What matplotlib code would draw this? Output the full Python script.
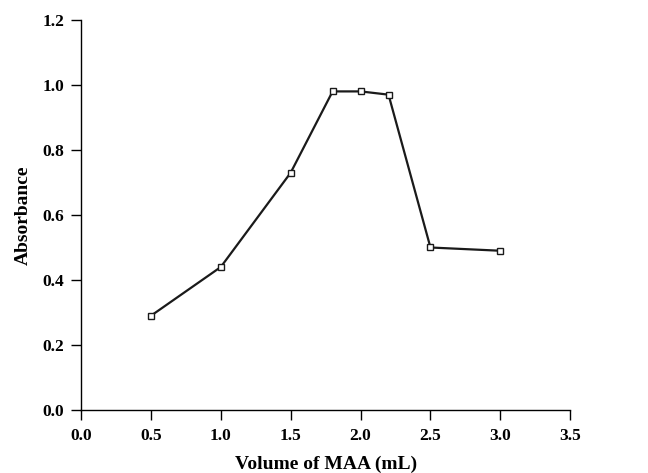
import matplotlib
matplotlib.use("Agg")
import matplotlib.pyplot as plt

# datos
volumen = [0.5, 1.0, 1.5, 1.8, 2.0, 2.2, 2.5, 3.0]
absorbancia = [0.29, 0.44, 0.73, 0.98, 0.98, 0.97, 0.50, 0.49]
xticks = [0.0, 0.5, 1.0, 1.5, 2.0, 2.5, 3.0, 3.5]
yticks = [0.0, 0.2, 0.4, 0.6, 0.8, 1.0, 1.2]

plt.rcParams['font.family'] = ['Liberation Serif', 'DejaVu Serif']
plt.rcParams['font.weight'] = 'bold'

fig = plt.figure(figsize=(6.48, 4.73), dpi=100)
ax = fig.add_axes([0.125, 0.133, 0.755, 0.825])

ax.plot(volumen, absorbancia, color="#1a1a1a", linewidth=1.6,
        marker="s", markersize=5, markerfacecolor="white",
        markeredgecolor="#1a1a1a", markeredgewidth=1.0)

ax.set_xlim(0, 3.5)
ax.set_ylim(0, 1.2)
ax.set_xticks(xticks)
ax.set_yticks(yticks)
ax.set_xticklabels([f"{v:.1f}" for v in xticks])
ax.set_yticklabels([f"{v:.1f}" for v in yticks])

ax.spines['top'].set_visible(False)
ax.spines['right'].set_visible(False)
ax.spines['left'].set_linewidth(1.0)
ax.spines['bottom'].set_linewidth(1.0)
ax.tick_params(direction='out', length=7, width=1.0, labelsize=12.5)
ax.tick_params(axis='x', pad=6)
ax.tick_params(axis='y', pad=5)

ax.set_xlabel("Volume of MAA (mL)", fontsize=14, fontweight='bold', labelpad=8)
ax.set_ylabel("Absorbance", fontsize=14, fontweight='bold', labelpad=8)

fig.savefig("out.png", dpi=100)
